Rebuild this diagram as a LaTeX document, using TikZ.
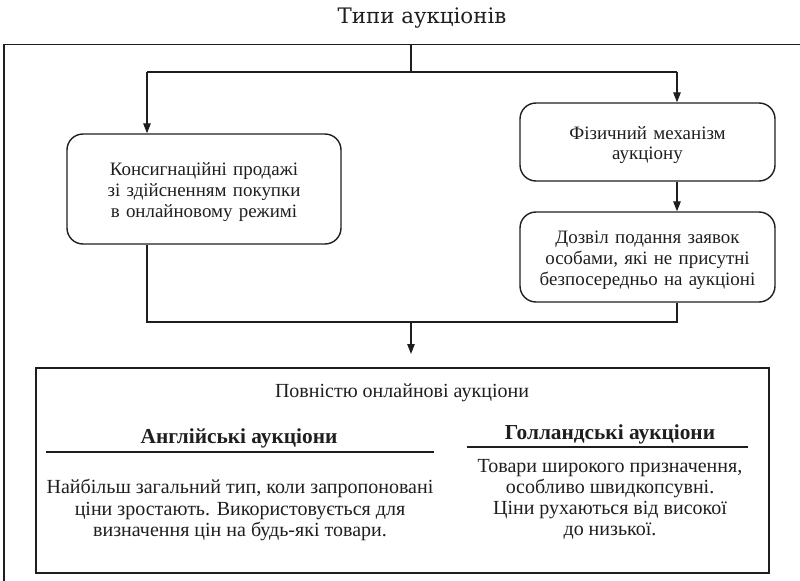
\documentclass[tikz,border=0pt]{standalone}
\usepackage{fontspec}
\setmainfont{Liberation Serif}
\newfontfamily\headfont{DejaVu Serif}
\usetikzlibrary{arrows.meta}
\definecolor{ink}{HTML}{1E1E1E}
\tikzset{
  wire/.style={draw=ink, line width=1.05pt},
  arr/.style={wire, -{Triangle[length=7.5pt,width=5.6pt]}},
  roundbox/.style={draw=ink, line width=1.05pt, rounded corners=12pt, align=center,
    inner sep=0pt, font=\fontsize{14.2}{15.6}\selectfont, text=ink,
    execute at begin node={\rule{0pt}{14.3pt}}},
  plain/.style={align=center, inner sep=0pt, font=\fontsize{15}{15.8}\selectfont, text=ink},
  bhead/.style={align=center, inner sep=0pt, font=\fontsize{16}{16}\selectfont\bfseries, text=ink},
}
\begin{document}
\begin{tikzpicture}[x=0.75pt, y=-0.75pt]
\useasboundingbox (0,0) rectangle (800,581);

% title and outer frame (open to the right and bottom)
\node[text=ink, inner sep=0pt, font=\headfont\fontsize{16}{17}\selectfont] (title) at (422,18) {Типи аукціонів};
\draw[draw=ink, line width=1.1pt] (4,581) -- (4,44.5) -- (800,44.5);

% upper branches
\coordinate (stem) at (411,44.5);
\coordinate (split) at (411,72);
\coordinate (la) at (147,72);
\coordinate (ra) at (677,72);

\node[roundbox, text width=264*0.75pt, minimum width=274*0.75pt, minimum height=110*0.75pt] (cons) at (204,189)
  {Консигнаційні продажі\\зі здійсненням покупки\\в онлайновому режимі};
\node[roundbox, text width=250*0.75pt, minimum width=255*0.75pt, minimum height=78*0.75pt] (phys) at (647.5,142)
  {Фізичний механізм\\аукціону};
\node[roundbox, text width=250*0.75pt, minimum width=255*0.75pt, minimum height=90*0.75pt] (remote) at (647.5,257)
  {Дозвіл подання заявок\\особами, які не присутні\\безпосередньо на аукціоні};

\draw[wire] (stem) -- (split);
\draw[wire] (la) -- (ra);
\draw[arr] (la) -- (la |- cons.north);
\draw[arr] (ra) -- (ra |- phys.north);
\draw[arr] (phys.south -| ra) -- (remote.north -| ra);

% merge into the lower block
\coordinate (join) at (411,322);
\coordinate (drop) at (411,354);
\draw[wire] (cons.south -| la) -- (la |- join) -- (ra |- join) -- (remote.south -| ra);
\draw[arr] (join) -- (drop);

% fully online auctions
\node[draw=ink, line width=1.1pt, inner sep=0pt, minimum width=733*0.75pt, minimum height=205*0.75pt] (online) at (402.5,470.5) {};
\node[plain] (onlinet) at (402,393) {Повністю онлайнові аукціони};

\node[bhead] (eng) at (239,438) {Англійські аукціони};
\node[bhead] (dut) at (610,434.5) {Голландські аукціони};
\coordinate (engl) at (46,452);
\coordinate (engr) at (434,452);
\coordinate (dutl) at (467,447);
\coordinate (dutr) at (748,447);
\draw[wire] (engl) -- (engr);
\draw[wire] (dutl) -- (dutr);

\node[plain] (engtxt) at (240,510)
  {Найбільш загальний тип, коли запропоновані\\ціни зростають. Використовується для\\визначення цін на будь-які товари.};
\node[plain] (duttxt) at (610,499.5)
  {Товари широкого призначення,\\особливо швидкопсувні.\\Ціни рухаються від високої\\до низької.};
\end{tikzpicture}
\end{document}
